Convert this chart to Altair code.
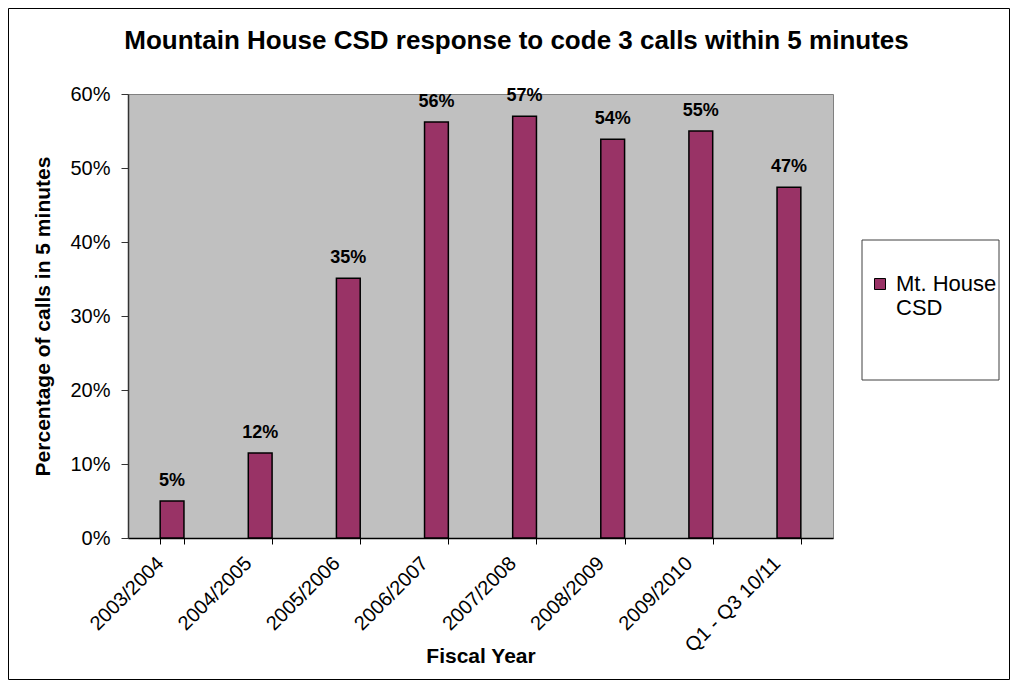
import altair as alt
import pandas as pd

years = ["2003/2004", "2004/2005", "2005/2006", "2006/2007",
         "2007/2008", "2008/2009", "2009/2010", "Q1 - Q3 10/11"]
pct = [0.050, 0.115, 0.351, 0.562, 0.570, 0.539, 0.550, 0.474]
labels = ["5%", "12%", "35%", "56%", "57%", "54%", "55%", "47%"]
series = "Mt. House CSD"
y_ticks = [0, 0.1, 0.2, 0.3, 0.4, 0.5, 0.6]

df = pd.DataFrame({"year": years, "pct": pct, "label": labels,
                   "series": [series] * len(years)})
one = pd.DataFrame({"a": [0]})

FONT = "Liberation Sans"
W, H = 705, 444
PAD = {"left": 120, "top": 86, "right": 177, "bottom": 142}

x = alt.X("year:N", sort=years, title="Fiscal Year",
          scale=alt.Scale(paddingInner=0.73, paddingOuter=0.365),
          axis=alt.Axis(labelAngle=-45, labelAlign="right", labelBaseline="middle",
                        labelFont=FONT, labelFontSize=20, labelColor="black",
                        labelPadding=16, labelOffset=-12, tickBand="extent", tickSize=6,
                        tickColor="black", domainColor="black", domainWidth=1.5,
                        titleFont=FONT, titleFontSize=21, titleFontWeight="bold",
                        titleColor="black", titleY=124, titleBaseline="alphabetic"))
y = alt.Y("pct:Q", title="Percentage of calls in 5 minutes",
          scale=alt.Scale(domain=[0, 0.6], nice=False),
          axis=alt.Axis(values=y_ticks, format=".0%", grid=False,
                        labelFont=FONT, labelFontSize=20, labelColor="black",
                        labelPadding=11, tickSize=7, tickColor="#333333",
                        domainColor="#333333", domainWidth=1.5,
                        titleFont=FONT, titleFontSize=21, titleFontWeight="bold",
                        titleColor="black", titleX=-79, titleBaseline="alphabetic"))

frame = alt.Chart(one).mark_rect(fillOpacity=0, stroke="black", strokeWidth=1).encode(
    x=alt.value(-119.5), x2=alt.value(881.5), y=alt.value(-85.5), y2=alt.value(585.5))
legend_box = alt.Chart(one).mark_rect(fill="white", stroke="#404040", strokeWidth=1).encode(
    x=alt.value(734), x2=alt.value(871), y=alt.value(146), y2=alt.value(286))

bars = alt.Chart(df).mark_bar(stroke="black", strokeWidth=1.5).encode(
    x=x, y=y,
    color=alt.Color("series:N",
                    scale=alt.Scale(domain=[series], range=["#993366"]),
                    legend=alt.Legend(orient="none", legendX=741, legendY=179,
                                      title=None, symbolType="square", symbolSize=121,
                                      symbolStrokeColor="black", symbolStrokeWidth=1,
                                      symbolOpacity=1,
                                      labelFont=FONT, labelFontSize=22,
                                      labelColor="black", labelOffset=5,
                                      labelExpr="['Mt. House', 'CSD']", padding=0)))

text = alt.Chart(df).mark_text(font=FONT, fontSize=18, fontWeight="bold",
                               baseline="alphabetic", dy=-15, color="black").encode(
    x=alt.X("year:N", sort=years), y=alt.Y("pct:Q"), text="label:N")

chart = alt.layer(frame, legend_box, bars, text).properties(
    width=W, height=H, padding=PAD, background="white",
    autosize=alt.AutoSizeParams(type="none"),
    title=alt.Title("Mountain House CSD response to code 3 calls within 5 minutes",
                    font=FONT, fontSize=26, fontWeight="bold", color="black",
                    anchor="middle", frame="group", offset=-67,
                    baseline="alphabetic", dx=36),
).configure_view(fill="#C0C0C0", stroke="#808080", strokeWidth=1)

chart.save("out.html", embed_options={"renderer": "svg", "actions": False})
